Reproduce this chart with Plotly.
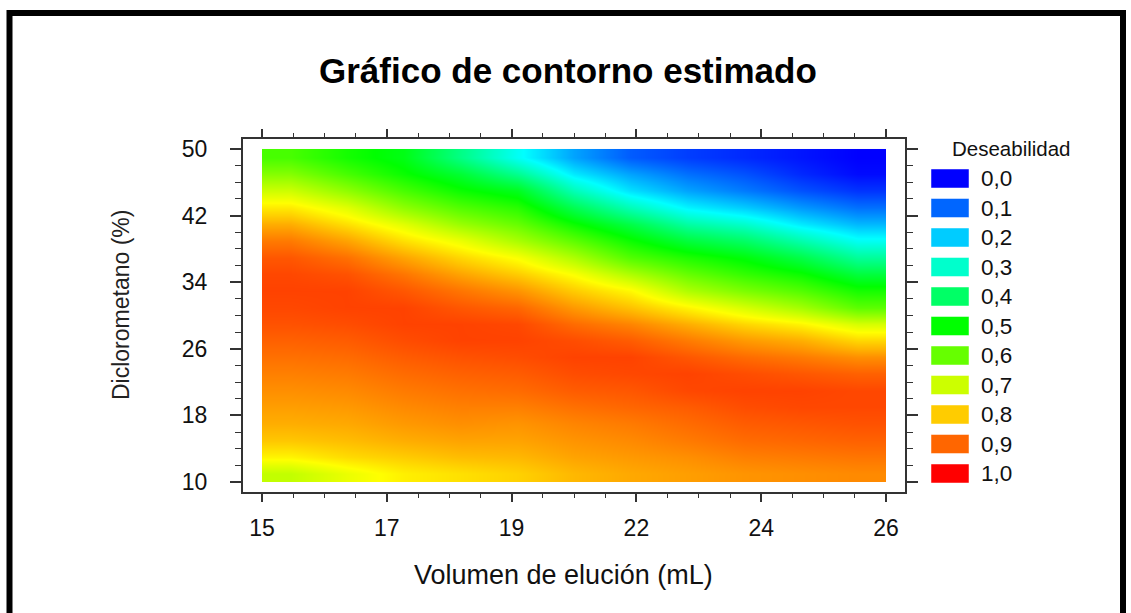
import plotly.graph_objects as go
from plotly.colors import sample_colorscale

# ---------------- data ----------------
# cell edges of the estimated surface grid
vol_edges = [15, 16, 17, 18, 19, 20, 21, 22, 23, 24, 25, 26]            # Volumen de elución (mL)
dcm_edges = [10, 12, 14, 16, 18, 20, 22, 24, 26, 28, 30,
             32, 34, 36, 38, 40, 42, 44, 46, 48, 50]                    # Diclorometano (%)

# desirability per column (volume cell), listed from top row (DCM 48-50) to bottom row (10-12)
col_15_16 = [0.57, 0.63, 0.70, 0.77, 0.83, 0.88, 0.915, 0.93, 0.935, 0.93, 0.92, 0.905, 0.89, 0.875, 0.86, 0.845, 0.83, 0.805, 0.76, 0.69]
col_16_17 = [0.52, 0.57, 0.64, 0.72, 0.78, 0.84, 0.89, 0.92, 0.935, 0.935, 0.925, 0.91, 0.895, 0.88, 0.865, 0.85, 0.835, 0.815, 0.785, 0.73]
col_17_18 = [0.48, 0.51, 0.57, 0.64, 0.72, 0.78, 0.84, 0.885, 0.915, 0.935, 0.935, 0.925, 0.91, 0.895, 0.88, 0.865, 0.85, 0.83, 0.80, 0.765]
col_18_19 = [0.37, 0.45, 0.51, 0.58, 0.65, 0.73, 0.79, 0.84, 0.885, 0.915, 0.935, 0.935, 0.92, 0.905, 0.89, 0.875, 0.86, 0.84, 0.815, 0.78]
col_19_20 = [0.26, 0.36, 0.47, 0.54, 0.60, 0.665, 0.745, 0.80, 0.855, 0.90, 0.93, 0.935, 0.925, 0.91, 0.895, 0.875, 0.855, 0.84, 0.82, 0.795]
col_20_21 = [0.16, 0.23, 0.32, 0.42, 0.51, 0.59, 0.67, 0.745, 0.80, 0.85, 0.895, 0.925, 0.935, 0.925, 0.91, 0.89, 0.87, 0.855, 0.84, 0.82]
col_21_22 = [0.09, 0.16, 0.22, 0.32, 0.43, 0.51, 0.58, 0.67, 0.755, 0.81, 0.87, 0.91, 0.935, 0.93, 0.915, 0.90, 0.88, 0.865, 0.85, 0.835]
col_22_23 = [0.06, 0.11, 0.16, 0.24, 0.34, 0.44, 0.53, 0.60, 0.67, 0.76, 0.83, 0.88, 0.915, 0.935, 0.93, 0.91, 0.895, 0.88, 0.86, 0.845]
col_23_24 = [0.04, 0.08, 0.12, 0.20, 0.30, 0.40, 0.49, 0.55, 0.62, 0.71, 0.79, 0.85, 0.895, 0.925, 0.935, 0.925, 0.91, 0.895, 0.875, 0.855]
col_24_25 = [0.02, 0.04, 0.08, 0.15, 0.23, 0.33, 0.43, 0.51, 0.58, 0.66, 0.76, 0.83, 0.88, 0.915, 0.935, 0.93, 0.915, 0.90, 0.88, 0.86]
col_25_26 = [0.00, 0.01, 0.05, 0.11, 0.18, 0.26, 0.35, 0.44, 0.52, 0.59, 0.71, 0.79, 0.86, 0.905, 0.93, 0.93, 0.92, 0.905, 0.885, 0.865]

columns = [col_15_16, col_16_17, col_17_18, col_18_19, col_19_20, col_20_21,
           col_21_22, col_22_23, col_23_24, col_24_25, col_25_26]

x_tickvals = [15, 17.2, 19.4, 21.6, 23.8, 26]
x_ticktext = ["15", "17", "19", "22", "24", "26"]
y_tickvals = [10, 18, 26, 34, 42, 50]
y_ticktext = ["10", "18", "26", "34", "42", "50"]

legend_levels = [0.0, 0.1, 0.2, 0.3, 0.4, 0.5, 0.6, 0.7, 0.8, 0.9, 1.0]

title_text = "Gráfico de contorno estimado"
x_title = "Volumen de elución (mL)"
y_title = "Diclorometano (%)"
legend_title = "Deseabilidad"

# ---------------- figure ----------------
colorscale = [[0.0, "#0000ff"], [0.25, "#00ffff"], [0.5, "#00ff00"],
              [0.75, "#ffff00"], [1.0, "#ff0000"]]

# z rows bottom -> top
nrows = len(dcm_edges) - 1
z = [[col[nrows - 1 - r] for col in columns] for r in range(nrows)]

W, H = 1131, 613
L, R, T, B = 243, 905, 139, 492
FONT = "Liberation Sans, Arial, sans-serif"
AX = "#333333"


def px_x(px):
    return (px - L) / (R - L)


def px_y(py):
    return (B - py) / (B - T)


fig = go.Figure()
fig.add_trace(go.Heatmap(
    x=vol_edges, y=dcm_edges, z=z,
    colorscale=colorscale, zmin=0, zmax=1,
    zsmooth="best", showscale=False, hoverinfo="skip",
))

axis_common = dict(
    ticks="outside", tickcolor=AX, tickwidth=1.5,
    showline=True, linecolor=AX, linewidth=2, mirror="allticks",
    showgrid=False, zeroline=False,
    tickfont=dict(family=FONT, size=23, color="#111111"),
)

fig.update_xaxes(
    range=[14.665, 26.335], tickmode="array", tickvals=x_tickvals, ticktext=x_ticktext,
    ticklen=8, ticklabelstandoff=6,
    minor=dict(tickmode="linear", tick0=15, dtick=0.55, ticks="outside",
               ticklen=4, tickwidth=1.2, tickcolor=AX),
    **axis_common,
)
fig.update_yaxes(
    range=[8.8, 51.2], tickmode="array", tickvals=y_tickvals, ticktext=y_ticktext,
    ticklen=11, ticklabelstandoff=18,
    minor=dict(tickmode="linear", tick0=10, dtick=2, ticks="outside",
               ticklen=6, tickwidth=1.2, tickcolor=AX),
    **axis_common,
)

annotations = [
    dict(text=title_text, x=px_x(568), y=px_y(71), xref="paper", yref="paper",
         xanchor="center", yanchor="middle", showarrow=False,
         font=dict(family=FONT, size=35, color="black", weight="bold")),
    dict(text=x_title, x=px_x(563), y=px_y(575), xref="paper", yref="paper",
         xanchor="center", yanchor="middle", showarrow=False,
         font=dict(family=FONT, size=27, color="#111111")),
    dict(text=y_title, x=px_x(121), y=px_y(305), xref="paper", yref="paper",
         xanchor="center", yanchor="middle", showarrow=False, textangle=-90,
         font=dict(family=FONT, size=23, color="#222222")),
    dict(text=legend_title, x=px_x(950), y=px_y(148), xref="paper", yref="paper",
         xanchor="left", yanchor="middle", showarrow=False,
         font=dict(family=FONT, size=20.5, color="#111111")),
]

shapes = []
legend_colors = sample_colorscale(colorscale, legend_levels)
for i, (lev, col) in enumerate(zip(legend_levels, legend_colors)):
    top = 169 + i * 29.5
    shapes.append(dict(type="rect", xref="paper", yref="paper",
                       x0=px_x(931), x1=px_x(969), y0=px_y(top + 19), y1=px_y(top),
                       fillcolor=col, line=dict(width=0.8, color="rgba(255,255,255,0.6)")))
    annotations.append(dict(text=f"{lev:.1f}".replace(".", ","),
                            x=px_x(979), y=px_y(top + 9.5), xref="paper", yref="paper",
                            xanchor="left", yanchor="middle", showarrow=False,
                            font=dict(family=FONT, size=22.5, color="#111111")))

# outer black frame of the picture
shapes.append(dict(type="rect", xref="paper", yref="paper",
                   x0=px_x(9.5), x1=px_x(1123), y0=px_y(660), y1=px_y(13),
                   line=dict(width=6, color="black"), fillcolor="rgba(0,0,0,0)"))

fig.update_layout(
    width=W, height=H,
    margin=dict(l=L, r=W - R, t=T, b=H - B),
    paper_bgcolor="white", plot_bgcolor="white",
    showlegend=False,
    annotations=annotations, shapes=shapes,
)

fig.write_html("out.html")
